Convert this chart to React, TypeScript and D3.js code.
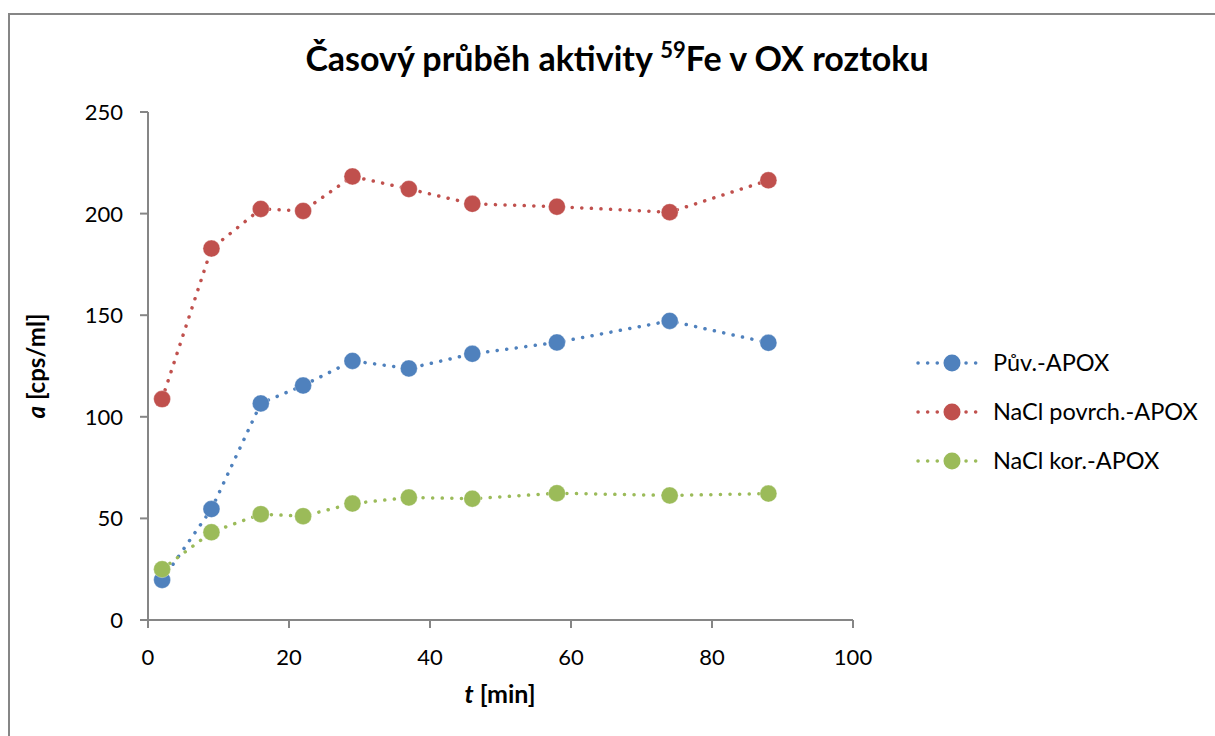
import * as d3 from 'd3';

const times = [2, 9, 16, 22, 29, 37, 46, 58, 74, 88];
const puvApox = [19.7, 54.6, 106.6, 115.4, 127.5, 123.8, 131, 136.6, 147.2, 136.4];
const naclPovrch = [108.7, 182.8, 202.3, 201.3, 218.3, 212.1, 204.8, 203.4, 200.7, 216.4];
const naclKor = [25, 43.2, 52.1, 51.1, 57.3, 60.3, 59.7, 62.4, 61.3, 62.2];

const seriesNames = ['Pův.-APOX', 'NaCl povrch.-APOX', 'NaCl kor.-APOX'];
const seriesColors = ['#4F81BD', '#C0504D', '#9BBB59'];
const xTicks = [0, 20, 40, 60, 80, 100];
const yTicks = [0, 50, 100, 150, 200, 250];

const FONT = 'Lato, "Open Sans", sans-serif';
const AXIS = '#868686';

export default function App() {
  const width = 1215;
  const height = 736;
  const x = d3.scaleLinear().domain([0, 100]).range([148, 853]);
  const y = d3.scaleLinear().domain([0, 250]).range([620, 112]);

  const series = [puvApox, naclPovrch, naclKor].map((vals, i) => ({
    name: seriesNames[i],
    color: seriesColors[i],
    points: vals.map((v, j) => ({ t: times[j], v })),
  }));

  const line = d3
    .line<{ t: number; v: number }>()
    .x((d) => x(d.t))
    .y((d) => y(d.v));

  const legendY = [363, 412, 461];

  return (
    <svg
      width={width}
      height={height}
      style={{ position: 'absolute', left: 0, top: 0, background: '#fff' }}
      fontFamily={FONT}
    >
      <rect x={9} y={14} width={1400} height={900} fill="#fff" stroke={AXIS} strokeWidth={2} />

      {/* title */}
      <text x={617} y={71} textAnchor="middle" fontSize={34} fontWeight="bold" fill="#000">
        Časový průběh aktivity <tspan fontSize={22} dy={-13}>59</tspan>
        <tspan dy={13}>Fe v OX roztoku</tspan>
      </text>

      {/* axes */}
      <line x1={x(0)} x2={x(0)} y1={y(250)} y2={y(0)} stroke={AXIS} strokeWidth={2} />
      <line x1={x(0)} x2={x(100)} y1={y(0)} y2={y(0)} stroke={AXIS} strokeWidth={2} />
      {yTicks.map((t) => (
        <g key={'y' + t}>
          <line x1={x(0) - 8} x2={x(0)} y1={y(t)} y2={y(t)} stroke={AXIS} strokeWidth={2} />
          <text x={x(0) - 25} y={y(t) + 8} textAnchor="end" fontSize={22} fill="#000">
            {t}
          </text>
        </g>
      ))}
      {xTicks.map((t) => (
        <g key={'x' + t}>
          <line x1={x(t)} x2={x(t)} y1={y(0)} y2={y(0) + 8} stroke={AXIS} strokeWidth={2} />
          <text x={x(t)} y={y(0) + 45} textAnchor="middle" fontSize={22} fill="#000">
            {t}
          </text>
        </g>
      ))}

      {/* axis titles */}
      <text x={500} y={703} textAnchor="middle" fontSize={25} fontWeight="bold" fill="#000">
        <tspan fontStyle="italic">t</tspan> [min]
      </text>
      <text
        transform="translate(45,366) rotate(-90)"
        textAnchor="middle"
        fontSize={24}
        fontWeight="bold"
        fill="#000"
      >
        <tspan fontStyle="italic">a</tspan> [cps/ml]
      </text>

      {/* series */}
      {series.map((s) => (
        <g key={s.name}>
          <path
            d={line(s.points) || ''}
            fill="none"
            stroke={s.color}
            strokeWidth={3.5}
            strokeLinecap="round"
            strokeDasharray="0.1 9.5"
          />
          {s.points.map((p) => (
            <circle
              key={p.t}
              cx={x(p.t)}
              cy={y(p.v)}
              r={8.5}
              fill={s.color}
              stroke="#fff"
              strokeOpacity={0.4}
              strokeWidth={0.8}
            />
          ))}
        </g>
      ))}

      {/* legend */}
      {series.map((s, i) => (
        <g key={'lg' + s.name} transform={`translate(0,${legendY[i]})`}>
          <line
            x1={918}
            x2={977}
            y1={0}
            y2={0}
            stroke={s.color}
            strokeWidth={3.5}
            strokeLinecap="round"
            strokeDasharray="0.1 9.5"
          />
          <circle cx={952} cy={0} r={8.5} fill={s.color} />
          <text x={993} y={8} fontSize={23.5} fill="#000">
            {s.name}
          </text>
        </g>
      ))}
    </svg>
  );
}
